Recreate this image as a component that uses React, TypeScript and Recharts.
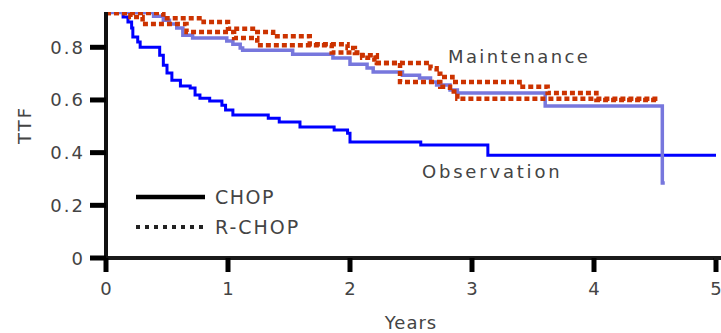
import React from 'react';
import { LineChart, Line, XAxis, YAxis } from 'recharts';

// Time-to-failure step curves (years vs. fraction without failure)
const yearTicks = [0, 1, 2, 3, 4, 5];
const ttfTicks = [0, 0.2, 0.4, 0.6, 0.8];

const observationYears = [0, 0.14, 0.18, 0.21, 0.22, 0.26, 0.28, 0.44, 0.47, 0.5, 0.54, 0.61, 0.69, 0.73, 0.77, 0.85, 0.95, 0.98, 1.04, 1.33, 1.42, 1.59, 1.87, 1.98, 2.0, 2.58, 3.13, 5.0];
const observationTtf = [0.932, 0.915, 0.896, 0.873, 0.839, 0.82, 0.8, 0.77, 0.732, 0.702, 0.675, 0.653, 0.645, 0.619, 0.607, 0.596, 0.58, 0.562, 0.543, 0.531, 0.516, 0.497, 0.486, 0.474, 0.44, 0.429, 0.39, 0.39];

const maintChopYears = [0, 0.39, 0.47, 0.52, 0.58, 0.63, 0.71, 0.99, 1.04, 1.1, 1.12, 1.53, 1.86, 2.0, 2.14, 2.19, 2.43, 2.57, 2.66, 2.71, 2.82, 2.88, 3.6, 4.56, 4.58];
const maintChopTtf = [0.932, 0.918, 0.903, 0.888, 0.873, 0.846, 0.835, 0.824, 0.812, 0.797, 0.789, 0.774, 0.759, 0.736, 0.721, 0.706, 0.694, 0.683, 0.668, 0.657, 0.638, 0.626, 0.577, 0.285, 0.285];

const maintRchopYears = [0, 0.47, 0.8, 1.0, 1.24, 1.37, 1.67, 1.98, 2.04, 2.08, 2.22, 2.66, 2.71, 2.74, 2.84, 3.39, 3.62, 4.02, 4.52];
const maintRchopTtf = [0.93, 0.91, 0.896, 0.87, 0.858, 0.842, 0.812, 0.797, 0.778, 0.77, 0.74, 0.72, 0.7, 0.687, 0.668, 0.65, 0.626, 0.6, 0.6];

const rchopLowerYears = [0, 0.2, 0.3, 0.66, 1.05, 1.24, 1.85, 2.1, 2.2, 2.41, 2.74, 2.82, 2.88, 4.52];
const rchopLowerTtf = [0.93, 0.915, 0.888, 0.858, 0.835, 0.808, 0.78, 0.76, 0.74, 0.668, 0.65, 0.632, 0.605, 0.605];

const toPoints = (years: number[], ttf: number[]) =>
  years.map((t, i) => ({ t, s: ttf[i] }));

const FONT = 'DejaVu Sans';
const TEXT = '#444';

const YTick = ({ x, y, payload }: any) => (
  <text
    x={x}
    y={y}
    dy={6.5}
    textAnchor="end"
    fontSize={18}
    fontFamily={FONT}
    letterSpacing={2}
    fill={TEXT}
  >
    {payload.value === 0 ? '0' : payload.value.toFixed(1)}
  </text>
);

const XTick = ({ x, y, payload }: any) => (
  <text
    x={x}
    y={y}
    dy={21}
    textAnchor="middle"
    fontSize={18}
    fontFamily={FONT}
    fill={TEXT}
  >
    {payload.value}
  </text>
);

export default function App() {
  return (
    <div style={{ position: 'relative', width: 721, height: 333, background: '#fff' }}>
      <style>{'body{margin:0}'}</style>
      <LineChart
        width={721}
        height={333}
        margin={{ top: 12, right: 5, bottom: 0, left: 0 }}
        style={{ overflow: 'visible' }}
      >
        <XAxis
          type="number"
          dataKey="t"
          domain={[0, 5]}
          ticks={yearTicks}
          height={75}
          tickSize={14}
          tickMargin={2}
          axisLine={{ stroke: '#1a1a1a', strokeWidth: 4 }}
          tickLine={{ stroke: '#000', strokeWidth: 5 }}
          tick={<XTick />}
        />
        <YAxis
          type="number"
          dataKey="s"
          domain={[0, 0.934]}
          allowDataOverflow
          ticks={ttfTicks}
          width={106}
          tickSize={16}
          tickMargin={5}
          axisLine={{ stroke: '#111', strokeWidth: 4 }}
          tickLine={{ stroke: '#000', strokeWidth: 5 }}
          tick={<YTick />}
        />
        <Line
          data={toPoints(observationYears, observationTtf)}
          dataKey="s"
          type="stepAfter"
          stroke="#0000ff"
          strokeWidth={3}
          dot={false}
          isAnimationActive={false}
        />
        <Line
          data={toPoints(maintChopYears, maintChopTtf)}
          dataKey="s"
          type="stepAfter"
          stroke="#7777dd"
          strokeWidth={3.5}
          dot={false}
          isAnimationActive={false}
        />
        <Line
          data={toPoints(rchopLowerYears, rchopLowerTtf)}
          dataKey="s"
          type="stepAfter"
          stroke="#cc3300"
          strokeWidth={4.5}
          strokeDasharray="5 3"
          dot={false}
          isAnimationActive={false}
        />
        <Line
          data={toPoints(maintRchopYears, maintRchopTtf)}
          dataKey="s"
          type="stepAfter"
          stroke="#cc3300"
          strokeWidth={4.5}
          strokeDasharray="5 3"
          dot={false}
          isAnimationActive={false}
        />
      </LineChart>
      <svg
        width={721}
        height={333}
        style={{ position: 'absolute', left: 0, top: 0, pointerEvents: 'none' }}
        fontFamily={FONT}
      >
        {/* x axis line runs on to the right edge */}
        <line x1={714} y1={258} x2={721} y2={258} stroke="#1a1a1a" strokeWidth={4} />
        <text
          transform="translate(31,125) rotate(-90)"
          textAnchor="middle"
          fontSize={18}
          letterSpacing={2}
          fill={TEXT}
        >
          TTF
        </text>
        <text x={411} y={329} textAnchor="middle" fontSize={18} letterSpacing={1} fill={TEXT}>
          Years
        </text>
        <text x={448} y={63} fontSize={18} letterSpacing={2.4} fill={TEXT}>
          Maintenance
        </text>
        <text x={422} y={178} fontSize={18} letterSpacing={2.8} fill={TEXT}>
          Observation
        </text>
        <line x1={136} y1={197} x2={205} y2={197} stroke="#000" strokeWidth={4.5} />
        <text x={215} y={204} fontSize={19} letterSpacing={1.5} fill={TEXT}>
          CHOP
        </text>
        <line
          x1={136}
          y1={227}
          x2={205}
          y2={227}
          stroke="#222"
          strokeWidth={4}
          strokeDasharray="4 5"
        />
        <text x={215} y={234} fontSize={19} letterSpacing={2} fill={TEXT}>
          R-CHOP
        </text>
      </svg>
    </div>
  );
}
